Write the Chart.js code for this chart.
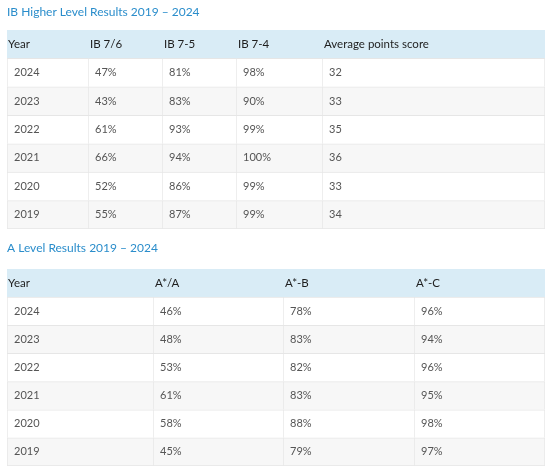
<!DOCTYPE html>
<html><head><meta charset="utf-8">
<script src="https://cdn.jsdelivr.net/npm/chart.js@4/dist/chart.umd.min.js"></script>
<style>
html,body{margin:0;padding:0;background:#fff;}
#w1{position:absolute;left:0;top:0;width:554px;height:240px;}
#w2{position:absolute;left:0;top:234px;width:554px;height:239px;}
</style></head><body>
<div id="w1"><canvas id="c1"></canvas></div>
<div id="w2"><canvas id="c2"></canvas></div>
<script>
// ---- data ----
const ibTitle = 'IB Higher Level Results 2019 – 2024';
const ibHeaders = ['Year', 'IB 7/6', 'IB 7-5', 'IB 7-4', 'Average points score'];
const ibYears = ['2024', '2023', '2022', '2021', '2020', '2019'];
const ib76 = [47, 43, 61, 66, 52, 55];
const ib75 = [81, 83, 93, 94, 86, 87];
const ib74 = [98, 90, 99, 100, 99, 99];
const ibAvg = [32, 33, 35, 36, 33, 34];

const aTitle = 'A Level Results 2019 – 2024';
const aHeaders = ['Year', 'A*/A', 'A*-B', 'A*-C'];
const aYears = ['2024', '2023', '2022', '2021', '2020', '2019'];
const aStarA = [46, 48, 53, 61, 58, 45];
const aStarB = [78, 83, 82, 83, 88, 79];
const aStarC = [96, 94, 96, 95, 98, 97];

// ---- layout / style ----
const ibColWidths = [81, 74, 74, 86, 223];
const aColWidths = [146, 130, 131, 131];
const FONT = 'Lato, "Open Sans", sans-serif';
const pct = v => v + '%';

const cellTextPlugin = {
  id: 'cellText',
  afterDatasetsDraw(chart) {
    const ctx = chart.ctx;
    ctx.save();
    ctx.textBaseline = 'middle';
    ctx.textAlign = 'left';
    chart.data.datasets.forEach((ds, i) => {
      const meta = chart.getDatasetMeta(i);
      meta.data.forEach((bar, j) => {
        const p = bar.getProps(['x', 'y', 'base'], true);
        const left = Math.min(p.x, p.base);
        const txt = ds.cellText[j];
        if (j === 0) {
          ctx.font = '11.5px ' + FONT;
          ctx.fillStyle = '#1e1e1e';
          ctx.fillText(txt, left + (i === 0 ? 1 : 2), p.y);
        } else {
          ctx.font = '11px ' + FONT;
          ctx.fillStyle = '#555555';
          ctx.fillText(txt, left + 7, p.y);
        }
      });
    });
    ctx.restore();
  }
};

function makeTable(id, title, headers, years, columns, widths, pad) {
  const rows = [headers[0], ...years];
  const total = widths.reduce((a, b) => a + b, 0);
  const last = headers.length - 1;
  const datasets = headers.map((h, i) => ({
    label: h,
    data: rows.map(() => widths[i]),
    cellText: [h, ...columns[i]],
    barPercentage: 1,
    categoryPercentage: 1,
    borderSkipped: false,
    backgroundColor: c => c.dataIndex === 0 ? '#d9ecf6' : (c.dataIndex % 2 === 1 ? '#ffffff' : '#f7f7f7'),
    borderColor: '#e6e6e6',
    borderWidth: c => c.dataIndex === 0 ? 0 : {
      left: 1,
      top: 1,
      right: c.datasetIndex === last ? 1 : 0,
      bottom: c.dataIndex === rows.length - 1 ? 1 : 0
    }
  }));
  return new Chart(document.getElementById(id), {
    type: 'bar',
    data: { labels: rows, datasets },
    options: {
      indexAxis: 'y',
      responsive: true,
      maintainAspectRatio: false,
      animation: false,
      events: [],
      layout: { padding: { left: 7, right: 9, top: 0, bottom: pad.bottom } },
      plugins: {
        legend: { display: false },
        tooltip: { enabled: false },
        title: {
          display: true, text: title, align: 'start', color: '#2a8dcb',
          font: { family: FONT, size: 12, weight: 'normal' },
          padding: { top: pad.top, bottom: pad.titleBottom }
        }
      },
      scales: {
        x: { type: 'linear', stacked: true, display: false, min: 0, max: total },
        y: { type: 'category', stacked: true, display: false, offset: true }
      }
    },
    plugins: [cellTextPlugin]
  });
}

makeTable('c1', ibTitle, ibHeaders, ibYears,
  [ibYears, ib76.map(pct), ib75.map(pct), ib74.map(pct), ibAvg.map(String)],
  ibColWidths, { top: 5, titleBottom: 10.6, bottom: 11 });

makeTable('c2', aTitle, aHeaders, aYears,
  [aYears, aStarA.map(pct), aStarB.map(pct), aStarC.map(pct)],
  aColWidths, { top: 6.8, titleBottom: 13.8, bottom: 7 });
</script>
</body></html>
